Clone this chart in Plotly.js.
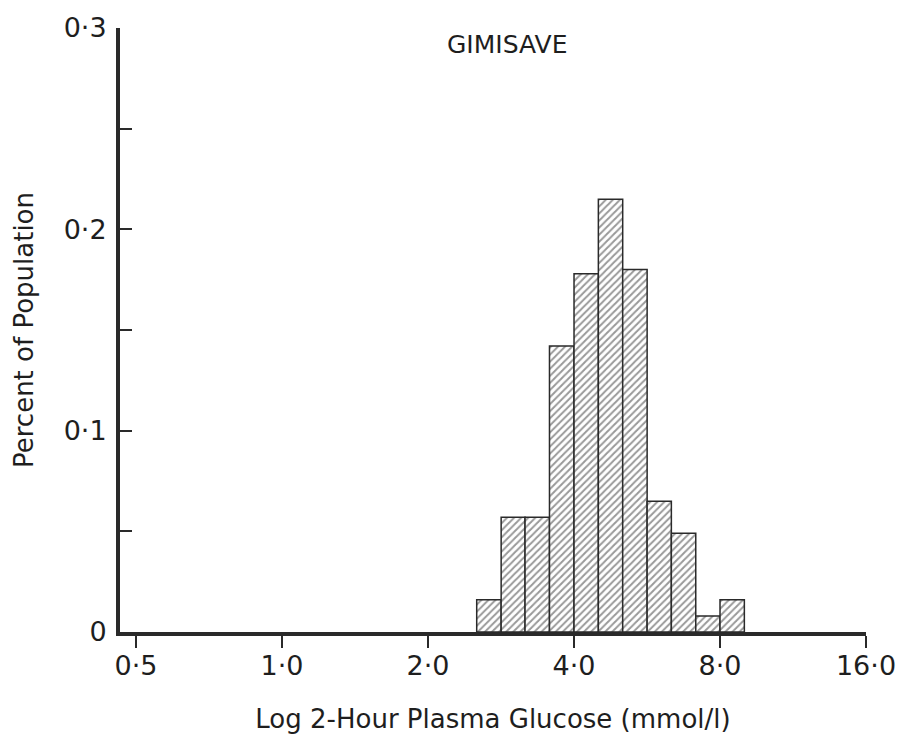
<!DOCTYPE html>
<html>
<head>
<meta charset="utf-8">
<script src="https://cdn.plot.ly/plotly-3.0.1.min.js"></script>
<style>html,body{margin:0;padding:0;background:#fff;}#chart{width:905px;height:741px;}</style>
</head>
<body>
<div id="chart"></div>
<script>
// Bin edges (mmol/l), 1/6-octave bins
const binLow  = [2.52, 2.83, 3.17, 3.56, 4.00, 4.49, 5.04, 5.66, 6.35, 7.13, 8.00];
const binHigh = [2.83, 3.17, 3.56, 4.00, 4.49, 5.04, 5.66, 6.35, 7.13, 8.00, 8.98];
const percent = [0.016, 0.057, 0.057, 0.142, 0.178, 0.215, 0.180, 0.065, 0.049, 0.008, 0.016];
const xTickValues = [0.5, 1, 2, 4, 8, 16];
const xTickLabels = ['0·5', '1·0', '2·0', '4·0', '8·0', '16·0'];
const yTickValues = [0, 0.05, 0.1, 0.15, 0.2, 0.25, 0.3];
const yTickLabels = ['0', '', '0·1', '', '0·2', '', '0·3'];

const l2 = v => Math.log2(v);
const centers = binLow.map((lo, i) => (l2(lo) + l2(binHigh[i])) / 2);
const widths = binLow.map((lo, i) => l2(binHigh[i]) - l2(lo));

const FONT = '"DejaVu Sans", sans-serif';
const INK = '#1e1e1e';
const trace = {
  type: 'bar',
  x: centers,
  y: percent,
  width: widths,
  marker: {
    color: '#ffffff',
    line: {color: '#2a2a2a', width: 1.5},
    pattern: {shape: '/', fgcolor: '#333333', bgcolor: '#ffffff', size: 5, solidity: 0.4, fillmode: 'overlay'}
  },
  hoverinfo: 'skip'
};

const layout = {
  width: 905, height: 741,
  margin: {l: 120, r: 39, t: 28, b: 109},
  paper_bgcolor: '#ffffff', plot_bgcolor: '#ffffff',
  showlegend: false,
  bargap: 0,
  font: {family: FONT, color: INK},
  xaxis: {
    range: [-1.11, 4.0],
    tickvals: xTickValues.map(l2),
    ticktext: xTickLabels,
    ticks: 'outside', ticklen: 12, tickwidth: 2, tickcolor: '#2a2a2a',
    showline: true, linewidth: 4, linecolor: '#2a2a2a',
    showgrid: false, zeroline: false,
    ticklabelstandoff: -5,
    tickfont: {size: 27, family: FONT, color: INK},
    title: {text: 'Log 2-Hour Plasma Glucose (mmol/l)', font: {size: 26, family: FONT, color: INK}, standoff: 30}
  },
  yaxis: {
    range: [0, 0.3],
    tickvals: yTickValues,
    ticktext: yTickLabels,
    ticks: 'inside', ticklen: 12, tickwidth: 2, tickcolor: '#2a2a2a',
    showline: true, linewidth: 4, linecolor: '#2a2a2a',
    showgrid: false, zeroline: false,
    ticklabelstandoff: 4,
    tickfont: {size: 27, family: FONT, color: INK},
    title: {text: 'Percent of Population', font: {size: 26, family: FONT, color: INK}, standoff: 24}
  },
  annotations: [{
    text: 'GIMISAVE', xref: 'paper', yref: 'paper', x: 0.519, y: 0.972,
    showarrow: false, xanchor: 'center', yanchor: 'middle',
    font: {size: 25, family: FONT, color: INK}
  }]
};

Plotly.newPlot('chart', [trace], layout, {displayModeBar: false, staticPlot: true});
</script>
</body>
</html>
